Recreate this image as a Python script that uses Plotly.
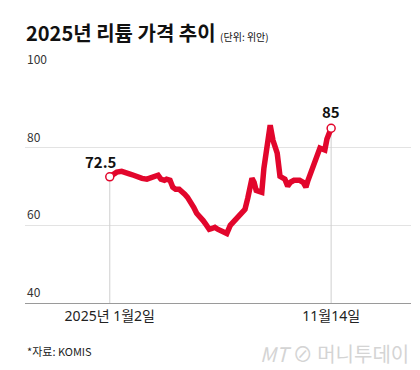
import plotly.graph_objects as go

dates = ["2025-01-02","2025-01-06","2025-01-12","2025-01-19","2025-01-25","2025-01-31","2025-02-05","2025-02-11",
         "2025-02-17","2025-02-24","2025-03-02","2025-03-06","2025-03-12","2025-03-16","2025-03-21","2025-03-24",
         "2025-03-29","2025-04-02","2025-04-06","2025-04-11","2025-04-15","2025-04-19","2025-04-23","2025-04-28",
         "2025-05-02","2025-05-06","2025-05-11","2025-05-15","2025-05-19","2025-05-24","2025-05-28","2025-06-01",
         "2025-06-05","2025-06-10","2025-06-14","2025-06-18","2025-06-23","2025-06-27","2025-07-01","2025-07-05",
         "2025-07-10","2025-07-14","2025-07-18","2025-07-21","2025-07-24","2025-07-27","2025-07-30","2025-08-02",
         "2025-08-07","2025-08-10","2025-08-13","2025-08-16","2025-08-19","2025-08-23","2025-08-29","2025-09-02",
         "2025-09-09","2025-09-13","2025-09-17","2025-09-22","2025-09-26","2025-09-30","2025-10-05","2025-10-09",
         "2025-10-12","2025-10-15","2025-10-18","2025-10-21","2025-10-25","2025-10-29","2025-11-02","2025-11-05",
         "2025-11-08","2025-11-11","2025-11-14"]
prices = [72.5, 72.9, 73.7, 73.9, 73.4, 73.2, 72.9, 72.4,
          72.1, 71.9, 72.4, 72.6, 72.9, 71.9, 71.6, 71.9,
          71.6, 69.8, 69.3, 69.3, 68.8, 68.0, 67.2, 65.9,
          64.6, 63.1, 62.3, 61.3, 60.3, 59.0, 59.2, 59.5,
          59.0, 58.7, 58.5, 57.9, 60.0, 60.8, 61.8, 62.3,
          63.1, 64.1, 67.0, 69.5, 72.1, 71.1, 69.0, 68.8,
          68.5, 74.7, 79.4, 83.0, 85.8, 81.9, 78.6, 72.6,
          71.9, 70.1, 71.1, 71.6, 71.6, 71.6, 71.1, 69.8,
          71.6, 73.2, 74.7, 76.0, 78.6, 79.9, 79.6, 79.4,
          82.2, 83.5, 85.0]

start_label = "72.5"
end_label = "85"
x_tick_vals = ["2025-01-02", "2025-11-14"]
x_tick_text = ["2025년 1월2일", "11월14일"]
y_tick_vals = [40, 60, 80, 100]

RED = "#E2062C"
FONT = "Noto Sans CJK KR, Noto Sans, sans-serif"
TICKFONT = "Noto Sans, Noto Sans CJK KR, sans-serif"

fig = go.Figure()

# drop lines at first and last points
for d, v in [(dates[0], prices[0]), (dates[-1], prices[-1])]:
    fig.add_trace(go.Scatter(x=[d, d], y=[40, v], mode="lines",
                             line=dict(color="#cfcfcf", width=1), hoverinfo="skip", showlegend=False))

fig.add_trace(go.Scatter(x=dates, y=prices, mode="lines",
                         line=dict(color=RED, width=5.5), showlegend=False))

fig.add_trace(go.Scatter(x=[dates[0], dates[-1]], y=[prices[0], prices[-1]], mode="markers",
                         marker=dict(size=8, color="white", line=dict(color=RED, width=1.5)),
                         showlegend=False))

fig.add_annotation(x=dates[0], y=prices[0], text="<b>" + start_label + "</b>", showarrow=False,
                   xanchor="right", yanchor="bottom", xshift=9, yshift=3,
                   font=dict(family=FONT, size=15, color="#111"))
fig.add_annotation(x=dates[-1], y=prices[-1], text="<b>" + end_label + "</b>", showarrow=False,
                   xanchor="center", yanchor="bottom", yshift=4,
                   font=dict(family=FONT, size=15, color="#111"))

# y tick labels sitting above the gridlines
for v in y_tick_vals:
    fig.add_annotation(xref="paper", x=0, y=v, text=str(v), showarrow=False,
                       xanchor="left", yanchor="bottom", yshift=1,
                       font=dict(family=FONT, size=12, color="#333"))

fig.add_annotation(xref="paper", yref="paper", x=-0.003, y=1.0, yshift=38, xanchor="left", yanchor="middle",
                   text="<b>2025년 리튬 가격 추이</b> <span style='font-size:10px'>(단위: 위안)</span>",
                   showarrow=False, font=dict(family=FONT, size=20, color="#111"))
fig.add_annotation(xref="paper", yref="paper", x=0, y=0, yshift=-48, xanchor="left", yanchor="middle",
                   text="*자료: KOMIS", showarrow=False, font=dict(family=FONT, size=11, color="#222"))
fig.add_annotation(xref="paper", yref="paper", x=1, y=0, yshift=-50, xanchor="right", yanchor="middle",
                   text="<i>MT</i> ⊘ 머니투데이", showarrow=False,
                   font=dict(family=FONT, size=20, color="#d4d4d4"))

fig.update_layout(
    width=420, height=370,
    margin=dict(l=17, r=17, t=62, b=75),
    paper_bgcolor="white", plot_bgcolor="white",
    font=dict(family=FONT, color="#333"),
    xaxis=dict(type="date", range=["2024-09-03", "2026-03-08"],
               tickvals=x_tick_vals, ticktext=x_tick_text, showgrid=False,
               showline=True, linecolor="#9a9a9a", linewidth=1, ticks="",
               tickfont=dict(family=TICKFONT, size=14, color="#222"), zeroline=False),
    yaxis=dict(range=[40, 100], tickvals=y_tick_vals, showgrid=True, gridcolor="#e3e3e3",
               gridwidth=1, zeroline=False, showticklabels=False, showline=False),
)

fig.write_html("out.html")
